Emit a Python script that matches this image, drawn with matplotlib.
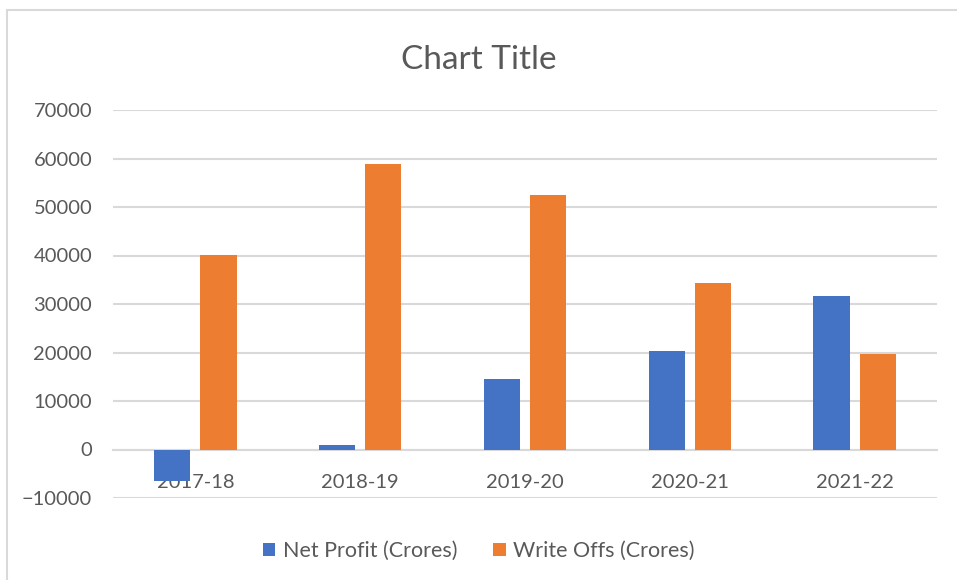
import numpy as np
import matplotlib.pyplot as plt
from matplotlib.patches import Rectangle

years = ["2017-18", "2018-19", "2019-20", "2020-21", "2021-22"]
net_profit = [-6547, 862, 14488, 20410, 31676]
write_offs = [40196, 58905, 52387, 34402, 19666]

BLUE = "#4472C4"
ORANGE = "#ED7D31"
GRID = "#D9D9D9"
TXT = "#595959"

plt.rcParams['font.family'] = ['Lato', 'DejaVu Sans']

fig = plt.figure(figsize=(9.57, 5.8), dpi=100)
# chart border like the spreadsheet frame
fig.patches.append(Rectangle((7/957, -0.01), 1.0, 1 - 10/580 + 0.01,
                             transform=fig.transFigure, fill=False,
                             edgecolor=GRID, linewidth=1.5))

ax = fig.add_axes([113/957, 1 - 498/580, 824/957, 388/580])
x = np.arange(len(years))
w = 0.22
ax.bar(x - 0.14, net_profit, w, color=BLUE, label="Net Profit (Crores)", zorder=3)
ax.bar(x + 0.14, write_offs, w, color=ORANGE, label="Write Offs (Crores)", zorder=3)

ax.set_xlim(-0.5, len(years) - 0.5)
ax.set_ylim(-10000, 70000)
ax.set_yticks(range(-10000, 70001, 10000))
ax.yaxis.grid(True, color=GRID, linewidth=1.5, zorder=0)
ax.set_axisbelow(True)
for s in ["left", "right", "top"]:
    ax.spines[s].set_visible(False)
ax.spines["bottom"].set_position(("data", 0))
ax.spines["bottom"].set_color(GRID)
ax.spines["bottom"].set_linewidth(1.5)
ax.spines["bottom"].set_zorder(1)

ax.set_xticks(x)
ax.set_xticklabels(years)
ax.tick_params(axis="x", length=0, pad=18, labelsize=14.5, labelcolor=TXT)
ax.tick_params(axis="y", length=0, pad=15, labelsize=14.5, labelcolor=TXT)
for lbl in ax.get_xticklabels():
    lbl.set_zorder(5)

fig.text(0.5, 1 - 60/580, "Chart Title", ha="center", va="center",
         fontsize=24, color=TXT)

fig.legend(loc="center", bbox_to_anchor=(0.5, 1 - 551/580), ncol=2,
           frameon=False, fontsize=15.5, labelcolor=TXT,
           handlelength=0.6, handleheight=0.6, handletextpad=0.33,
           columnspacing=1.67)

fig.savefig("out.png", dpi=100)
